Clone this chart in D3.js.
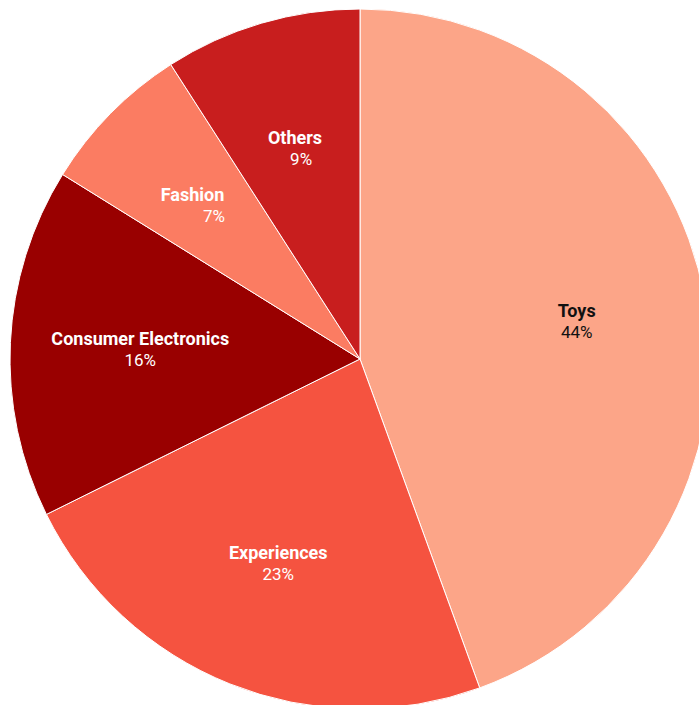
<!DOCTYPE html>
<html>
<head>
<meta charset="utf-8">
<script src="https://cdn.jsdelivr.net/npm/d3@7"></script>
<style>
  html, body { margin: 0; padding: 0; background: #fff; overflow: hidden; }
  svg { display: block; }
</style>
</head>
<body>
<svg id="chart" width="699" height="705"></svg>
<script>
// Share of spending by category (percent)
const categories = ["Toys", "Experiences", "Consumer Electronics", "Fashion", "Others"];
const shares = [44, 23, 16, 7, 9];
const sliceColors = ["#fca588", "#f55340", "#990000", "#fb7c62", "#c81e1e"];
const labelColors = ["#111111", "#ffffff", "#ffffff", "#ffffff", "#ffffff"];

const width = 699, height = 705;
const cx = 360, cy = 359, radius = 350;
const labelRadius = 220;

const svg = d3.select("#chart");
const g = svg.append("g").attr("transform", `translate(${cx},${cy})`);

const data = categories.map((c, i) => ({ category: c, value: shares[i], color: sliceColors[i], text: labelColors[i] }));

const pie = d3.pie().value(d => d.value).sort(null);
const arc = d3.arc().innerRadius(0).outerRadius(radius);
const labelArc = d3.arc().innerRadius(labelRadius).outerRadius(labelRadius);

const arcs = pie(data);

g.selectAll("path.slice")
  .data(arcs)
  .join("path")
  .attr("class", "slice")
  .attr("d", arc)
  .attr("fill", d => d.data.color)
  .attr("stroke", "#ffffff")
  .attr("stroke-width", 1);

// Two-line labels; near the top-left the lines follow the radial direction
const lineGap = 10.5;
function lineShift(d, v) {
  const [x, y] = labelArc.centroid(d);
  return (x < 0 && y < -labelRadius * 0.3) ? v * x / y : 0;
}

const labels = g.selectAll("g.label")
  .data(arcs)
  .join("g")
  .attr("class", "label")
  .attr("transform", d => `translate(${labelArc.centroid(d)})`);

labels.append("text")
  .attr("text-anchor", "middle")
  .attr("x", d => lineShift(d, -lineGap))
  .attr("y", -4)
  .attr("font-family", "Roboto, sans-serif")
  .attr("font-weight", 700)
  .attr("font-size", 18)
  .attr("fill", d => d.data.text)
  .text(d => d.data.category);

labels.append("text")
  .attr("text-anchor", "middle")
  .attr("x", d => lineShift(d, lineGap))
  .attr("y", 17)
  .attr("font-family", "Roboto, sans-serif")
  .attr("font-weight", 400)
  .attr("font-size", 17)
  .attr("fill", d => d.data.text)
  .text(d => d.data.value + "%");
</script>
</body>
</html>
